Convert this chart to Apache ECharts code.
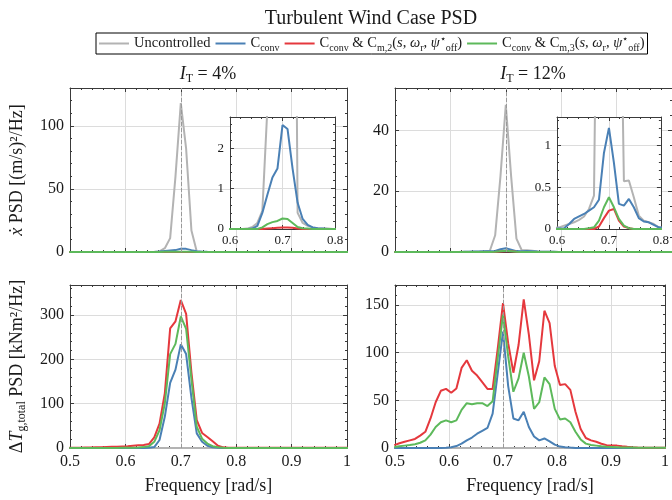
<!DOCTYPE html>
<html>
<head>
<meta charset="utf-8">
<script src="https://cdn.jsdelivr.net/npm/echarts@6.0.0/dist/echarts.min.js"></script>
<style>html,body{margin:0;padding:0;background:#fff}#c{width:672px;height:500px}</style>
</head>
<body>
<div id="c"></div>
<script>
// ---------- data ----------
const freq = [0.4986,0.5082,0.5178,0.5274,0.5370,0.5466,0.5562,0.5658,0.5753,0.5849,
0.5945,0.6041,0.6137,0.6233,0.6329,0.6425,0.6521,0.6616,0.6712,0.6808,
0.6904,0.7000,0.7096,0.7192,0.7288,0.7384,0.7479,0.7575,0.7671,0.7767,
0.7863,0.7959,0.8055,0.8151,0.8247,0.8342,0.8438,0.8534,0.8630,0.8726,
0.8822,0.8918,0.9014,0.9110,0.9205,0.9301,0.9397,0.9493,0.9589,0.9685,
0.9781,0.9877,0.9973,1.0068];

// platform velocity PSD, I_T = 4%
const unc4X = [0,0,0,0,0,0,0,0,0,0, 0,0,0,0,0.01,0.05,0.15,0.45,3,11,
60,118,82,17,0.4,0.15,0.08,0.04,0.02,0.01, 0.01,0,0,0,0,0,0,0,0,0, 0,0,0,0,0,0,0,0,0,0, 0,0,0,0];
const conv4X = [0,0,0,0,0,0,0,0,0,0, 0,0,0,0,0,0.01,0.08,0.4,0.85,1.28,
1.5,2.58,2.48,1.5,0.65,0.25,0.1,0.04,0.02,0.01, 0,0,0,0,0,0,0,0,0,0, 0,0,0,0,0,0,0,0,0,0, 0,0,0,0];
const m2_4X = [0,0,0,0,0,0,0,0,0,0, 0,0,0,0,0,0,0,0,0.01,0.02,
0.03,0.04,0.04,0.03,0.01,0,0,0,0,0, 0,0,0,0,0,0,0,0,0,0, 0,0,0,0,0,0,0,0,0,0, 0,0,0,0];
const m3_4X = [0,0,0,0,0,0,0,0,0,0, 0,0,0,0,0,0,0,0.04,0.12,0.17,
0.2,0.26,0.25,0.15,0.05,0.02,0.01,0,0,0, 0,0,0,0,0,0,0,0,0,0, 0,0,0,0,0,0,0,0,0,0, 0,0,0,0];

// platform velocity PSD, I_T = 12%
const unc12X = [0,0,0,0,0,0,0,0,0,0, 0.01,0.02,0.04,0.06,0.08,0.11,0.15,0.24,0.4,5.5,
25,48.5,25,4.4,0.57,0.58,0.38,0.16,0.1,0.08, 0.06,0.02,0.01,0,0,0,0,0,0,0, 0,0,0,0,0,0,0,0,0,0, 0,0,0,0];
const conv12X = [0,0,0,0,0,0,0,0,0,0, 0,0.005,0.01,0.06,0.12,0.15,0.18,0.22,0.26,0.35,
0.91,1.21,0.79,0.3,0.28,0.36,0.26,0.13,0.09,0.08, 0.05,0.02,0.01,0,0,0,0,0,0,0, 0,0,0,0,0,0,0,0,0,0, 0,0,0,0];
const m2_12X = [0,0,0,0,0,0,0,0,0,0, 0,0,0,0,0,0,0,0,0,0.03,
0.13,0.22,0.24,0.1,0.03,0.01,0,0,0,0, 0,0,0,0,0,0,0,0,0,0, 0,0,0,0,0,0,0,0,0,0, 0,0,0,0];
const m3_12X = [0,0,0,0,0,0,0,0,0,0, 0,0,0,0,0,0,0,0.01,0.02,0.1,
0.26,0.38,0.26,0.12,0.04,0.01,0,0,0,0, 0,0,0,0,0,0,0,0,0,0, 0,0,0,0,0,0,0,0,0,0, 0,0,0,0];

// generator torque PSD, I_T = 4%
const unc4T = [0,0,0,0,0,0,0,0,0,0, 0,0,0,0,0,0,0,0,0,0, 0,0,0,0,0,0,0,0,0,0,
0,0,0,0,0,0,0,0,0,0, 0,0,0,0,0,0,0,0,0,0, 0,0,0,0];
const conv4T = [0,0,0,0,0,0,0,0,0,0, 0,0,0,0,0,0.5,2,18,71,147,
177,234,212,113,33,14,5,1.5,0.5,0, 0,0,0,0,0,0,0,0,0,0, 0,0,0,0,0,0,0,0,0,0, 0,0,0,0];
const m2_4T = [0.5,0.6,0.8,1,1.2,1.5,1.8,2.2,2.6,3, 3.5,4,5,6,7,9,24,55,124,270,
286,334,303,170,63,34,25,15,5,1.5, 0.8,0.5,0.5,0.5,0.5,0.5,0.5,0.5,0.5,0.5, 0.5,0.5,0.5,0.5,0.5,0.5,0.5,0.5,0.5,0.5, 0.5,0.5,0.5,0.5];
const m3_4T = [0.2,0.2,0.2,0.2,0.2,0.2,0.2,0.2,0.2,0.2, 0.4,0.5,0.7,1,2,4,14,40,101,212,
235,297,269,155,48,21,10,4,1.5,0.5, 0.2,0.2,0.2,0.2,0.2,0.2,0.2,0.2,0.2,0.2, 0.2,0.2,0.2,0.2,0.2,0.2,0.2,0.2,0.2,0.2, 0.2,0.2,0.2,0.2];

// generator torque PSD, I_T = 12%
const unc12T = [0,0,0,0,0,0,0,0,0,0, 0,0,0,0,0,0,0,0,0,0, 0,0,0,0,0,0,0,0,0,0,
0,0,0,0,0,0,0,0,0,0, 0,0,0,0,0,0,0,0,0,0, 0,0,0,0];
const conv12T = [0,0,0,0,0,0,0,0,0,0, 0.3,0.7,2,4.5,8,11,15,18,21,36,
79,122,65,31,29,38,22,12,8,10, 7,3.5,1.5,0.8,0.4,0.1,0.1,0.1,0.1,0.1, 0.1,0.1,0.1,0.1,0.1,0.1,0.1,0.1,0.1,0.1, 0.1,0.1,0.1,0.1];
const m2_12T = [3,5,6.5,8,9.5,13,17,31,48,60, 62,58,62.5,84,92,81,76,69,62,62,
105,152,110,79,108,156,119,71,91,144, 131,86,66,67,61,38,20,10.5,8,6.5, 4.5,3,2.5,2.5,1.8,1.2,0.8,0.5,0.3,0.2, 0.2,0.2,0.2,0.2];
const m3_12T = [1,1.8,2.5,3.2,4,5.5,8,14,22,27, 29,27,29,40,47,46,47,47,44,49,
95,140,96,59,73,100,75,41,48,74, 67,41,30,31,27,17,9,4.6,3.2,2.5, 1.8,1.2,1.0,0.8,0.6,0.5,0.4,0.3,0.3,0.2, 0.2,0.2,0.2,0.2];

const seriesNames = ['Uncontrolled', 'C_conv', 'C_conv & C_m,2', 'C_conv & C_m,3'];
const legendText = {
  'Uncontrolled': '{n|Uncontrolled}',
  'C_conv': '{n|C}{s|conv}',
  'C_conv & C_m,2': '{n|C}{s|conv}{n| & C}{s|m,2}{n|(}{i|s}{n|, }{i|ω}{s|r}{n|, }{i|ψ}{p|⋆}{s|off}{n|)}',
  'C_conv & C_m,3': '{n|C}{s|conv}{n| & C}{s|m,3}{n|(}{i|s}{n|, }{i|ω}{s|r}{n|, }{i|ψ}{p|⋆}{s|off}{n|)}'
};
const mainTitle = 'Turbulent Wind Case PSD';
const panelTitles = ['{i|I}{s|T}{n| = 4%}', '{i|I}{s|T}{n| = 12%}'];
const yNames = ['{i|ẋ}{n| PSD [(m/s)²/Hz]}', '{n|Δ}{i|T}{s|g,total}{n| PSD [kNm²/Hz]}'];
const xName = 'Frequency [rad/s]';
const markFreq = 0.7;

// ---------- styling ----------
const FF = 'Liberation Serif';
const TXT = '#1a1a1a';
const AX = '#3a3a3a';
const colors = ['#b3b3b3', '#4a80b5', '#e5383d', '#5db95b'];

function rich(fs, lh) {
  const sf = Math.round(fs * 0.68);
  return {
    n: {fontFamily: FF, fontWeight: 'normal', fontSize: fs, lineHeight: lh, color: TXT},
    i: {fontFamily: FF, fontWeight: 'normal', fontStyle: 'italic', fontSize: fs, lineHeight: lh, color: TXT},
    s: {fontFamily: FF, fontWeight: 'normal', fontSize: sf, verticalAlign: 'bottom', color: TXT},
    p: {fontFamily: FF, fontWeight: 'normal', fontSize: sf, verticalAlign: 'top', color: TXT}
  };
}

const panels = [
  {grid: {left: 70, top: 88, width: 277, height: 164}, x: [0.5, 1, 0.1], xLab: false, y: [130, 50, 5], data: [unc4X, conv4X, m2_4X, m3_4X], fs: 16, yName: yNames[0], z: 0},
  {grid: {left: 395, top: 88, width: 277, height: 164}, x: [0.5, 1, 0.1], xLab: false, y: [54, 20, 4], data: [unc12X, conv12X, m2_12X, m3_12X], fs: 16, z: 0},
  {grid: {left: 70, top: 285, width: 277, height: 163}, x: [0.5, 1, 0.1], xLab: true, y: [368, 100, 5], data: [unc4T, conv4T, m2_4T, m3_4T], fs: 16, yName: yNames[1], xName: xName, z: 0},
  {grid: {left: 395, top: 285, width: 277, height: 163}, x: [0.5, 1, 0.1], xLab: true, y: [171, 50, 5], data: [unc12T, conv12T, m2_12T, m3_12T], fs: 16, xName: xName, z: 0},
  {grid: {left: 230, top: 117, width: 105, height: 112}, x: [0.6, 0.8, 0.1], xLab: true, y: [2.78, 1, 5], data: [unc4X, conv4X, m2_4X, m3_4X], fs: 13, z: 5, inset: true},
  {grid: {left: 557, top: 117, width: 105, height: 112}, x: [0.6, 0.8, 0.1], xLab: true, y: [1.34, 0.5, 5], data: [unc12X, conv12X, m2_12X, m3_12X], fs: 13, z: 5, inset: true}
];

const grids = [], xAxes = [], yAxes = [], series = [];
const tick = {show: true, inside: true, length: 4, lineStyle: {color: AX, width: 1}};
const minor = (n) => ({show: true, splitNumber: n, length: 2, lineStyle: {color: AX, width: 1}});
const line = {show: true, onZero: false, lineStyle: {color: AX, width: 1}};
const split = {show: true, lineStyle: {color: '#dcdcdc', width: 1}};

panels.forEach((p, g) => {
  grids.push(Object.assign({
    show: !!p.inset, backgroundColor: '#fff', borderWidth: 0, z: p.z, containLabel: false
  }, p.grid));
  const az = p.z + 1;
  const labStyle = {fontFamily: FF, fontSize: p.fs, color: TXT};
  xAxes.push({
    type: 'value', gridIndex: g, position: 'bottom', min: p.x[0], max: p.x[1], interval: p.x[2], z: az,
    axisLine: line, axisTick: tick, minorTick: minor(5), splitLine: split,
    axisLabel: Object.assign({show: p.xLab, margin: p.inset ? 5 : 6}, labStyle),
    name: p.xName || '', nameLocation: 'middle', nameGap: 29,
    nameTextStyle: {fontFamily: FF, fontSize: 18, color: TXT}
  });
  xAxes.push({
    type: 'value', gridIndex: g, position: 'top', min: p.x[0], max: p.x[1], interval: p.x[2], z: az,
    axisLine: line, axisTick: tick, minorTick: minor(5), splitLine: {show: false},
    axisLabel: {show: false}
  });
  yAxes.push({
    type: 'value', gridIndex: g, position: 'left', min: 0, max: p.y[0], interval: p.y[1], z: az,
    axisLine: line, axisTick: tick, minorTick: minor(p.y[2]), splitLine: split,
    axisLabel: Object.assign({show: true, margin: 6, showMaxLabel: false}, labStyle),
    name: p.yName || '', nameLocation: 'middle', nameRotate: 90, nameGap: 42,
    nameTextStyle: {rich: rich(18, 22)}
  });
  yAxes.push({
    type: 'value', gridIndex: g, position: 'right', min: 0, max: p.y[0], interval: p.y[1], z: az,
    axisLine: line, axisTick: tick, minorTick: minor(p.y[2]), splitLine: {show: false},
    axisLabel: {show: false}
  });
  p.data.forEach((arr, k) => {
    const s = {
      type: 'line', name: seriesNames[k], xAxisIndex: 2 * g, yAxisIndex: 2 * g,
      data: freq.map((f, i) => [f, arr[i]]),
      symbol: 'none', showSymbol: false, clip: true, z: p.z + 2 + k * 0.01,
      lineStyle: {color: colors[k], width: 2}, itemStyle: {color: colors[k]},
      emphasis: {disabled: true}, animation: false
    };
    if (k === 0) {
      s.markLine = {
        silent: true, symbol: ['none', 'none'], label: {show: false}, animation: false,
        lineStyle: {color: '#999', type: [4, 2], width: 1},
        data: [{xAxis: markFreq}]
      };
    }
    series.push(s);
  });
});

const option = {
  animation: false,
  backgroundColor: '#fff',
  title: [
    {text: mainTitle, left: 371, top: 9, textAlign: 'center', padding: 0,
     textStyle: {fontFamily: FF, fontSize: 20, fontWeight: 'normal', color: TXT}},
    {text: panelTitles[0], left: 208, top: 63, textAlign: 'center', padding: 0,
     textStyle: {fontWeight: 'normal', rich: rich(18, 22)}},
    {text: panelTitles[1], left: 533, top: 63, textAlign: 'center', padding: 0,
     textStyle: {fontWeight: 'normal', rich: rich(18, 22)}}
  ],
  legend: {
    show: true, data: seriesNames, left: 96, top: 33, width: 600,
    orient: 'horizontal', icon: 'rect', itemWidth: 30, itemHeight: 2, itemGap: 5,
    padding: [1, 3, 1, 3], borderColor: '#000', borderWidth: 1, borderRadius: 0,
    backgroundColor: '#fff', selectedMode: false,
    formatter: (name) => legendText[name],
    textStyle: {fontFamily: FF, fontSize: 14.5, color: TXT, rich: rich(14.5, 19)}
  },
  grid: grids,
  xAxis: xAxes,
  yAxis: yAxes,
  series: series
};

const chart = echarts.init(document.getElementById('c'), null, {renderer: 'canvas'});
chart.setOption(option);
</script>
</body>
</html>
